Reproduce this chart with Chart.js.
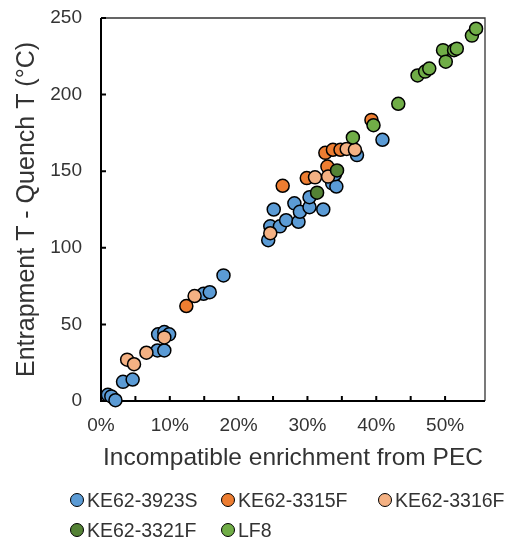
<!DOCTYPE html>
<html>
<head>
<meta charset="utf-8">
<script src="https://cdn.jsdelivr.net/npm/chart.js@4.4.0/dist/chart.umd.min.js"></script>
<style>
  body { margin: 0; background: #fff; overflow: hidden; }
  #wrap { position: relative; width: 507px; height: 537px; }
  #chart { display: block; }
  .item { position: absolute; height: 22px; line-height: 22px; display: flex; align-items: center;
          font: 19.5px "Liberation Sans", Arial, sans-serif; color: #333; white-space: nowrap; }
  .dot { width: 12px; height: 12px; border-radius: 50%; border: 1px solid #000; margin-right: 3px; }
</style>
</head>
<body>
<div id="wrap">
  <canvas id="chart" width="507" height="537"></canvas>
  <div id="legend"></div>
</div>
<script>
// ---------------- Daten ----------------
const seriesNames = ["KE62-3923S", "KE62-3315F", "KE62-3316F", "KE62-3321F", "LF8"];
const seriesColors = ["#5B9BD5", "#ED7D31", "#F4B183", "#548235", "#70AD47"];

// KE62-3923S
const x3923S = [0.010, 0.015, 0.021, 0.032, 0.046, 0.082, 0.092, 0.083, 0.092, 0.099, 0.149, 0.158, 0.178,
                0.243, 0.246, 0.251, 0.260, 0.269, 0.281, 0.287, 0.289, 0.303, 0.303, 0.323, 0.336, 0.342, 0.340, 0.372, 0.409];
const y3923S = [4, 3, 0.5, 12.5, 14, 33, 33, 43.5, 45, 43.5, 70, 71, 82,
                105, 114, 125, 114, 118, 129, 117, 123.5, 126.5, 133, 125, 142, 140, 148, 160.5, 170.5];
// KE62-3315F
const x3315F = [0.124, 0.264, 0.299, 0.329, 0.326, 0.337, 0.348, 0.393];
const y3315F = [62, 140.5, 145.5, 153, 162, 164, 164, 183.5];
// KE62-3316F
const x3316F = [0.038, 0.048, 0.066, 0.092, 0.136, 0.246, 0.311, 0.330, 0.357, 0.369];
const y3316F = [27, 24, 31.5, 41.5, 68.5, 109.5, 146, 146.5, 164.5, 164];
// KE62-3321F
const x3321F = [0.314, 0.343];
const y3321F = [136, 150.5];
// LF8
const xLF8 = [0.366, 0.396, 0.432, 0.460, 0.471, 0.477, 0.497, 0.501, 0.513, 0.517, 0.539, 0.545];
const yLF8 = [172, 180, 194, 212.5, 215, 217, 229, 221.5, 229, 230, 238.5, 243];

const xValues = [x3923S, x3315F, x3316F, x3321F, xLF8];
const yValues = [y3923S, y3315F, y3316F, y3321F, yLF8];

const FONT = "'Liberation Sans', Arial, sans-serif";
const TXT = "#333";

// ---------------- Rahmen + Ticks nach innen ----------------
const frame = {
  id: "frame",
  beforeDatasetsDraw(chart) {
    const { ctx, chartArea: a, scales: { x, y } } = chart;
    ctx.save();
    ctx.strokeStyle = "#333";
    ctx.lineWidth = 1.3;
    ctx.beginPath();
    ctx.moveTo(a.left, a.top);
    ctx.lineTo(a.right, a.top);
    ctx.lineTo(a.right, a.bottom);
    ctx.stroke();

    ctx.strokeStyle = "#000";
    ctx.lineWidth = 2;
    ctx.beginPath();
    ctx.moveTo(a.left, a.top);
    ctx.lineTo(a.left, a.bottom);
    ctx.lineTo(a.right, a.bottom);
    x.ticks.forEach(t => {
      const p = Math.round(t.value * 100);
      if (p % 5 !== 0) return;
      const px = x.getPixelForValue(t.value);
      ctx.moveTo(px, a.bottom);
      ctx.lineTo(px, a.bottom - 5);
    });
    y.ticks.forEach(t => {
      const py = y.getPixelForValue(t.value);
      ctx.moveTo(a.left, py);
      ctx.lineTo(a.left + 5, py);
    });
    ctx.stroke();
    ctx.restore();
  }
};

// ---------------- Chart ----------------
new Chart(document.getElementById("chart").getContext("2d"), {
  type: "scatter",
  data: {
    datasets: seriesNames.map((name, i) => ({
      label: name,
      data: xValues[i].map((v, j) => ({ x: v, y: yValues[i][j] })),
      backgroundColor: seriesColors[i],
      borderColor: "#000",
      borderWidth: 1.5,
      pointRadius: 6.5,
      clip: false,
      order: seriesNames.length - i
    }))
  },
  options: {
    responsive: false,
    animation: false,
    layout: { padding: { top: 18, right: 22, left: 0, bottom: 0 } },
    plugins: { legend: { display: false }, tooltip: { enabled: false } },
    scales: {
      x: {
        type: "linear",
        min: 0,
        max: 0.558,
        afterFit: s => { s.height = 136; },
        grid: { display: false },
        border: { display: false },
        ticks: {
          stepSize: 0.05,
          autoSkip: false,
          maxRotation: 0,
          padding: 5,
          color: TXT,
          font: { family: FONT, size: 19 },
          callback: v => {
            const p = Math.round(v * 100);
            return p % 10 === 0 ? p + "%" : "";
          }
        },
        title: {
          display: true,
          text: "Incompatible enrichment from PEC",
          color: TXT,
          font: { family: FONT, size: 24.5 },
          padding: { top: 0, bottom: 64 }
        }
      },
      y: {
        min: 0,
        max: 250,
        afterFit: s => { s.width = 101; },
        // unsichtbare Tick-Striche schieben die Beschriftung nach links
        grid: { display: true, drawOnChartArea: false, drawTicks: true, tickLength: 14, tickColor: "rgba(0,0,0,0)" },
        border: { display: false },
        ticks: {
          stepSize: 50,
          padding: 5,
          color: TXT,
          font: { family: FONT, size: 19 }
        },
        title: {
          display: true,
          text: "Entrapment T - Quench T (°C)",
          color: TXT,
          font: { family: FONT, size: 25 },
          padding: { top: 12, bottom: 0 }
        }
      }
    }
  },
  plugins: [frame]
});

// ---------------- Legende ----------------
const legendPos = [[70, 489], [221, 489], [378, 489], [70, 519], [221, 519]];
const legend = document.getElementById("legend");
seriesNames.forEach((name, i) => {
  const el = document.createElement("div");
  el.className = "item";
  el.style.left = legendPos[i][0] + "px";
  el.style.top = legendPos[i][1] + "px";
  el.innerHTML = `<span class="dot" style="background:${seriesColors[i]}"></span>${name}`;
  legend.appendChild(el);
});
</script>
</body>
</html>
